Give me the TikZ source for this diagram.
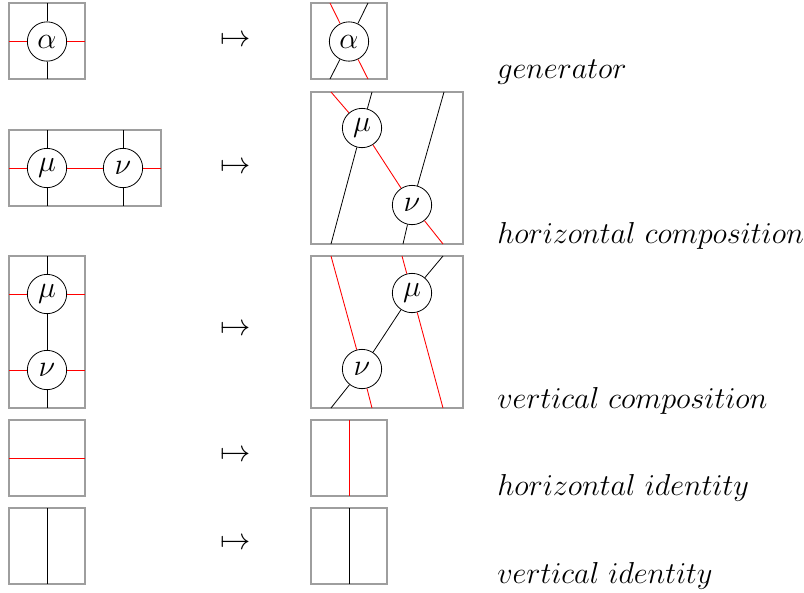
\documentclass[tikz,border=0pt]{standalone}
\usepackage{graphicx}
\newcommand{\bigtx}[1]{\scalebox{1.1}{\huge #1}}
\begin{document}
\begin{tikzpicture}[x=0.0264583cm,y=-0.0264583cm,
  frame/.style={draw=black!38,line width=0.9pt},
  wire/.style={line width=0.6pt,black},
  rwire/.style={line width=0.65pt,red},
  cell/.style={circle,draw,line width=0.6pt,fill=white,minimum size=1.04cm,inner sep=0pt},
  arr/.style={inner sep=0pt},
  lab/.style={anchor=base west,inner sep=0pt}]
\useasboundingbox (0,0) rectangle (804,592);
% ---------- row 1: generator ----------
\draw[frame] (9,3) rectangle (85,79);
\node[cell] (a1) at (47,41.5) {\bigtx{$\alpha$}};
\coordinate (gw) at (9,41.5); \coordinate (ge) at (85,41.5);
\coordinate (gn) at (47,3); \coordinate (gs) at (47,79);
\draw[rwire] (gw) -- (a1) -- (ge);
\draw[wire] (gn) -- (a1) -- (gs);
\node[arr] (m1) at (236,41) {\bigtx{$\mapsto$}};
\draw[frame] (311,3) rectangle (387,79);
\node[cell] (a2) at (349,41.5) {\bigtx{$\alpha$}};
\coordinate (a2rt) at (330,3); \coordinate (a2rb) at (368,79);
\coordinate (a2bt) at (368,3); \coordinate (a2bb) at (330,79);
\draw[rwire] (a2rt) -- (a2) -- (a2rb);
\draw[wire] (a2bt) -- (a2) -- (a2bb);
\node[lab] (l1) at (497,78) {\bigtx{$generator$}};
% ---------- row 2: horizontal composition ----------
\draw[frame] (9,130) rectangle (161,206);
\node[cell] (mu1) at (47,168) {\bigtx{$\mu$}};
\node[cell] (nu1) at (123,168) {\bigtx{$\nu$}};
\coordinate (h1w) at (9,168); \coordinate (h1e) at (161,168);
\coordinate (mu1n) at (47,130); \coordinate (mu1s) at (47,206);
\coordinate (nu1n) at (123,130); \coordinate (nu1s) at (123,206);
\draw[rwire] (h1w) -- (mu1) -- (nu1) -- (h1e);
\draw[wire] (mu1n) -- (mu1) -- (mu1s);
\draw[wire] (nu1n) -- (nu1) -- (nu1s);
\node[arr] (m2) at (236,168) {\bigtx{$\mapsto$}};
\draw[frame] (311,92) rectangle (463,244);
\node[cell] (mu2) at (362,128) {\bigtx{$\mu$}};
\node[cell] (nu2) at (412,205) {\bigtx{$\nu$}};
\coordinate (r2t) at (331,92); \coordinate (r2b) at (443,244);
\coordinate (b2at) at (372,92); \coordinate (b2ab) at (331,244);
\coordinate (b2bt) at (444,92); \coordinate (b2bb) at (403,244);
\draw[rwire] (r2t) -- (mu2) -- (nu2) -- (r2b);
\draw[wire] (b2at) -- (mu2) -- (b2ab);
\draw[wire] (b2bt) -- (nu2) -- (b2bb);
\node[lab] (l2) at (497,243) {\bigtx{$horizontal\ composition$}};
% ---------- row 3: vertical composition ----------
\draw[frame] (9,256) rectangle (85,408);
\node[cell] (mu3) at (47,294) {\bigtx{$\mu$}};
\node[cell] (nu3) at (47,370) {\bigtx{$\nu$}};
\coordinate (mu3w) at (9,294); \coordinate (mu3e) at (85,294);
\coordinate (nu3w) at (9,370); \coordinate (nu3e) at (85,370);
\coordinate (v3n) at (47,256); \coordinate (v3s) at (47,408);
\draw[rwire] (mu3w) -- (mu3) -- (mu3e);
\draw[rwire] (nu3w) -- (nu3) -- (nu3e);
\draw[wire] (v3n) -- (mu3) -- (nu3) -- (v3s);
\node[arr] (m3) at (236,330) {\bigtx{$\mapsto$}};
\draw[frame] (311,256) rectangle (463,408);
\node[cell] (mu4) at (412,293) {\bigtx{$\mu$}};
\node[cell] (nu4) at (362,369) {\bigtx{$\nu$}};
\coordinate (r4at) at (331,256); \coordinate (r4ab) at (372,408);
\coordinate (r4bt) at (402,256); \coordinate (r4bb) at (443,408);
\coordinate (b4t) at (443,256); \coordinate (b4b) at (331,408);
\draw[rwire] (r4at) -- (nu4) -- (r4ab);
\draw[rwire] (r4bt) -- (mu4) -- (r4bb);
\draw[wire] (b4t) -- (mu4) -- (nu4) -- (b4b);
\node[lab] (l3) at (497,408) {\bigtx{$vertical\ composition$}};
% ---------- row 4: horizontal identity ----------
\draw[frame] (9,420) rectangle (85,496);
\coordinate (h4w) at (9,458); \coordinate (h4e) at (85,458);
\draw[rwire] (h4w) -- (h4e);
\node[arr] (m4) at (236,456) {\bigtx{$\mapsto$}};
\draw[frame] (311,420) rectangle (387,496);
\coordinate (h5n) at (349,420); \coordinate (h5s) at (349,496);
\draw[rwire] (h5n) -- (h5s);
\node[lab] (l4) at (497,495) {\bigtx{$horizontal\ identity$}};
% ---------- row 5: vertical identity ----------
\draw[frame] (9,508) rectangle (85,584);
\coordinate (v5n) at (47,508); \coordinate (v5s) at (47,584);
\draw[wire] (v5n) -- (v5s);
\node[arr] (m5) at (236,544) {\bigtx{$\mapsto$}};
\draw[frame] (311,508) rectangle (387,584);
\coordinate (v6n) at (349,508); \coordinate (v6s) at (349,584);
\draw[wire] (v6n) -- (v6s);
\node[lab] (l5) at (497,583) {\bigtx{$vertical\ identity$}};
\end{tikzpicture}
\end{document}
